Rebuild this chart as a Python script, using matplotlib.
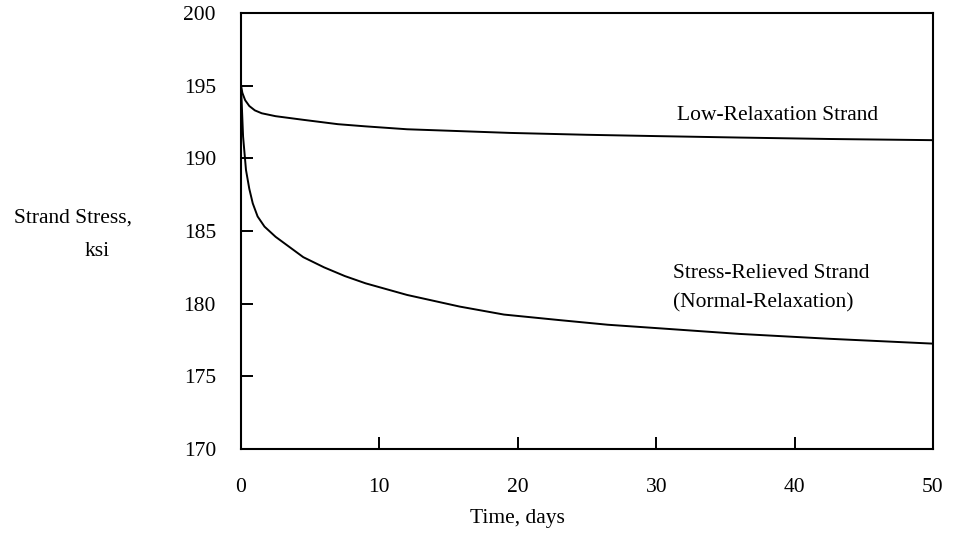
import numpy as np
import matplotlib
matplotlib.use("Agg")
import matplotlib.pyplot as plt

plt.rcParams['font.family'] = ['Liberation Serif', 'DejaVu Serif']

# values
low_days = [0, 0.1, 0.3, 0.6, 1.0, 1.5, 2.5, 4.5, 7, 9, 12, 15, 19.4, 25, 30, 36, 42.6, 50]
low_stress = [195.0, 194.5, 194.0, 193.6, 193.3, 193.1, 192.9, 192.65, 192.35, 192.2,
              192.0, 191.9, 191.75, 191.62, 191.53, 191.43, 191.33, 191.25]

sr_days = [0, 0.15, 0.36, 0.6, 0.85, 1.2, 1.7, 2.5, 3.5, 4.5, 6, 7.5, 9, 12, 15.8, 19,
           23, 26.5, 30.3, 36, 42.6, 50]
sr_stress = [195.0, 191.5, 189.2, 187.9, 186.9, 186.0, 185.3, 184.6, 183.9, 183.2, 182.5,
             181.9, 181.4, 180.6, 179.8, 179.25, 178.87, 178.55, 178.3, 177.92, 177.58, 177.25]

x_ticks = [0, 10, 20, 30, 40, 50]
y_ticks = [170, 175, 180, 185, 190, 195, 200]

fig = plt.figure(figsize=(9.54, 5.38), dpi=100)
ax = fig.add_axes([241 / 954, 89 / 538, 692 / 954, 436 / 538])

ax.plot(low_days, low_stress, color='black', lw=1.4)
ax.plot(sr_days, sr_stress, color='black', lw=1.4)

ax.set_xlim(0, 50)
ax.set_ylim(170, 200)
ax.set_xticks(x_ticks)
ax.set_yticks(y_ticks)
ax.tick_params(direction='in', length=8.6, width=1.4, labelsize=15.5)
ax.tick_params(axis='y', pad=18)
ax.tick_params(axis='x', pad=21)
for s in ax.spines.values():
    s.set_linewidth(1.5)

ax.text(31.5, 192.98, 'Low-Relaxation Strand', fontsize=15.5, va='center', ha='left')
ax.text(31.2, 182.1, 'Stress-Relieved Strand', fontsize=15.5, va='center', ha='left')
ax.text(31.2, 180.04, '(Normal-Relaxation)', fontsize=15.5, va='center', ha='left')

fig.text(73 / 954, 1 - 218 / 538, 'Strand Stress,', fontsize=15.5, ha='center', va='center')
fig.text(97 / 954, 1 - 252 / 538, 'ksi', fontsize=15.5, ha='center', va='center')
fig.text(517 / 954, 1 - 518 / 538, 'Time, days', fontsize=15.5, ha='center', va='center')

fig.savefig('out.png', dpi=100)
